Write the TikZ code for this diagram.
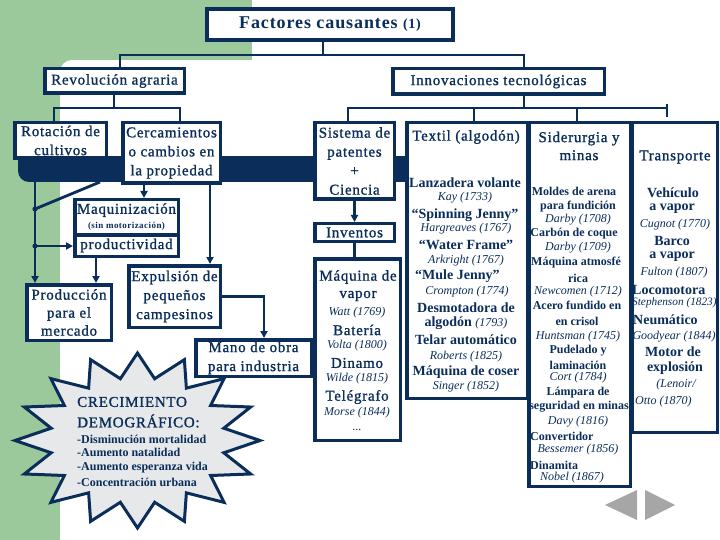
\documentclass[tikz,border=0pt]{standalone}
\usepackage{fontspec}
\setmainfont{Liberation Serif}
\newfontfamily\hdfont[LetterSpace=5,FakeBold=1.2]{Liberation Serif}
\newfontfamily\tifont[LetterSpace=5]{Liberation Serif}
\usetikzlibrary{arrows.meta}
\definecolor{navy}{RGB}{10,45,90}
\definecolor{bggreen}{RGB}{155,201,155}
\definecolor{navgray}{RGB}{166,166,166}
\definecolor{marble}{RGB}{230,232,234}
\newcommand\hdsz{\hdfont\fontsize{15}{19}\selectfont}
\begin{document}
\begin{tikzpicture}[x=1pt,y=-1pt,
  box/.style={draw=navy,line width=3.5pt,fill=white,inner sep=0pt,align=center,text=navy,font=\hdsz},
  conn/.style={draw=navy,line width=2.8pt},
  arr/.style={conn,-{Triangle[length=7pt,width=7pt]}},
  txt/.style={inner sep=0pt,text=navy},
  hd/.style={txt,font=\hdsz,align=center},
  bi/.style={txt,font=\bfseries\fontsize{14}{14}\selectfont},
  bs/.style={txt,font=\bfseries\fontsize{12}{12}\selectfont},
  it/.style={txt,font=\itshape\fontsize{12}{12}\selectfont},
  dot/.style={fill=navy}]
\useasboundingbox (0,0) rectangle (720,540);
% background
\fill[bggreen] (0,0) rectangle (252,60);
\fill[bggreen] (0,0) rectangle (60,540);
\fill[bggreen] (60,60) rectangle (72,72);
\fill[white] (72,72) circle (12);
% thick bar
\fill[navy, rounded corners=11pt] (18,150) rectangle (60,182);
\fill[navy] (40,156) rectangle (407,182);
% star
\filldraw[fill=marble, draw=navy, line width=3pt, miter limit=6]
  (260,440.5) \foreach \i in {1,...,31} { -- ({137.5+(88+34.5*(1-mod(\i,2)))*cos(\i*11.25)},{440.5-(63+24.5*(1-mod(\i,2)))*sin(\i*11.25)}) } -- cycle;
% navigation
\fill[navgray] (605,505) -- (637,490) -- (637,520) -- cycle;
\fill[navgray] (645,490) -- (675,505) -- (645,520) -- cycle;
% boxes
\node[box,line width=4pt,minimum width=246,minimum height=31,font=\tifont\bfseries\fontsize{18}{18}\selectfont] (title) at (330,24.5) {Factores causantes {\fontsize{14}{14}\selectfont (1)}};
\node[box,minimum width=139.5,minimum height=24.5] (revol) at (114.5,81) {Revolución agraria};
\node[box,minimum width=211.5,minimum height=25.5] (innov) at (498.5,81.5) {Innovaciones tecnológicas};
\node[box,minimum width=91.5,minimum height=35.5] (rot) at (60.5,140.5) {Rotación de\\cultivos};
\node[box,minimum width=97.5,minimum height=60.5] (cerc) at (171.5,153) {Cercamientos\\o cambios en\\la propiedad};
\node[box,minimum width=103.5,minimum height=34.5] (maq) at (126.5,217) {Maquinización\\[-4pt]{\tifont\bfseries\fontsize{9}{9}\selectfont (sin motorización)}};
\node[box,minimum width=103.5,minimum height=21.5] (prodv) at (126.5,245.5) {productividad};
\node[box,minimum width=84.5,minimum height=55.5,font=\hdfont\fontsize{15}{18}\selectfont] (prod) at (69,312.5) {Producción\\para el\\mercado};
\node[box,minimum width=91.5,minimum height=61.5] (exp) at (174.5,296.5) {Expulsión de\\pequeños\\campesinos};
\node[box,minimum width=115.5,minimum height=36.5] (mano) at (253.5,358) {Mano de obra\\para industria};
\node[box,minimum width=79.5,minimum height=76.5] (sist) at (354.5,161) {Sistema de\\patentes\\+\\Ciencia};
\node[box,minimum width=79.5,minimum height=17.5] (inv) at (354.5,232.5) {Inventos};
\node[box,minimum width=85.5,minimum height=181.5] (maq2) at (357.5,349.5) {};
\node[box,minimum width=120.5,minimum height=275.5] (textil) at (467,260.5) {};
\node[box,minimum width=101.5,minimum height=363.5] (sider) at (579.5,304.5) {};
\node[box,minimum width=85.5,minimum height=309.5] (transp) at (674.5,277.5) {};
% junction coordinates
\coordinate (jt) at (323,55);
\coordinate (ja) at (120,55);
\coordinate (jb) at (524,55);
\coordinate (jr) at (114,108);
\coordinate (jr1) at (54,108);
\coordinate (jr2) at (180,108);
\coordinate (ji) at (524,108);
\coordinate (ji1) at (348,108);
\coordinate (ji2) at (474,108);
\coordinate (ji3) at (577,108);
\coordinate (ji4) at (667,108);
\coordinate (tkA) at (667,104);
\coordinate (tkB) at (667,117);
\coordinate (bl) at (35,182);
\coordinate (d1) at (35,209);
\coordinate (d1e) at (100,182);
\coordinate (d2) at (35,246);
\coordinate (c144) at (144,0);
\coordinate (c210) at (210,0);
\coordinate (c96) at (96,0);
\coordinate (c264) at (264,0);
% connectors
\draw[conn] (title.south -| jt) -- (jt);
\draw[conn] (revol.north -| ja) -- (ja) -- (jb) -- (innov.north -| jb);
\draw[conn] (revol.south -| jr) -- (jr);
\draw[conn] (rot.north -| jr1) -- (jr1) -- (jr2) -- (cerc.north -| jr2);
\draw[conn] (innov.south -| ji) -- (ji);
\draw[conn] (sist.north -| ji1) -- (ji1) -- (ji4);
\draw[conn] (ji2) -- (textil.north -| ji2);
\draw[conn] (ji3) -- (sider.north -| ji3);
\draw[conn] (tkA) -- (tkB);
\draw[arr] (bl) -- (prod.north -| bl);
\draw[conn] (d1) -- (d1e);
\fill[dot] (d1) circle (2.6);
\fill[dot] (d2) circle (2.6);
\draw[arr] (d2) -- (prodv.west |- d2);
\draw[arr] (cerc.south -| c144) -- (maq.north -| c144);
\draw[arr] (cerc.south -| c210) -- (exp.north -| c210);
\draw[arr] (prodv.south -| c96) -- (prod.north -| c96);
\draw[arr] (exp.east) -| (mano.north -| c264);
\draw[arr] (sist.south) -- (inv.north);
\draw[conn] (inv.south) -- (maq2.north -| inv.south);
% Maquina column
\node[hd] (mq1) at (358,277) {Máquina de};
\node[hd] (mq2) at (358,296) {vapor};
\node[it] (mq3) at (357,313) {Watt (1769)};
\node[hd] (mq4) at (357,330) {Batería};
\node[it] (mq5) at (357,346) {Volta (1800)};
\node[hd] (mq6) at (357,363) {Dinamo};
\node[it] (mq7) at (357,379) {Wilde (1815)};
\node[hd] (mq8) at (357,397) {Telégrafo};
\node[it] (mq9) at (357,413) {Morse (1844)};
\node[it] (mq10) at (357,430) {...};
% Textil column
\node[hd] (txh) at (466,137) {Textil (algodón)};
\node[bi] (tx1) at (465,183) {Lanzadera volante};
\node[it] (tx2) at (465,198) {Kay (1733)};
\node[bi] (tx3) at (465,215) {“Spinning Jenny”};
\node[it] (tx4) at (466,229) {Hargreaves (1767)};
\node[bi] (tx5) at (466,245) {“Water Frame”};
\node[it] (tx6) at (466,261) {Arkright (1767)};
\node[bi,anchor=west] (tx7) at (415,276) {“Mule Jenny”};
\node[it] (tx8) at (467,292) {Crompton (1774)};
\node[bi] (tx9) at (466,308) {Desmotadora de};
\node[bi] (tx10) at (466,323) {algodón {\mdseries\itshape\fontsize{12}{12}\selectfont (1793)}};
\node[bi] (tx11) at (466,340) {Telar automático};
\node[it] (tx12) at (466,357) {Roberts (1825)};
\node[bi] (tx13) at (466,372) {Máquina de coser};
\node[it] (tx14) at (466,387) {Singer (1852)};
% Siderurgia column
\node[hd,font=\hdfont\fontsize{15}{18}\selectfont] (sdh) at (579,146) {Siderurgia y\\minas};
\node[bs] (sd1) at (574,191) {Moldes de arena};
\node[bs] (sd2) at (578,207) {para fundición};
\node[it] (sd3) at (578,220) {Darby (1708)};
\node[bs] (sd4) at (574,234) {Carbón de coque};
\node[it] (sd5) at (578,248) {Darby (1709)};
\node[bs] (sd6) at (576,263) {Máquina atmosfé};
\node[bs] (sd7) at (578,278) {rica};
\node[it] (sd8) at (578,292) {Newcomen (1712)};
\node[bs] (sd9) at (577,305) {Acero fundido en};
\node[bs] (sd10) at (577,321) {en crisol};
\node[it] (sd11) at (578,337) {Huntsman (1745)};
\node[bs] (sd12) at (578,351) {Pudelado y};
\node[bs] (sd13) at (578,365) {laminación};
\node[it] (sd14) at (578,378) {Cort (1784)};
\node[bs] (sd15) at (578,393) {Lámpara de};
\node[bs] (sd16) at (579,407) {seguridad en minas};
\node[it] (sd17) at (578,422) {Davy (1816)};
\node[bs,anchor=west] (sd18) at (530,436) {Convertidor};
\node[it] (sd19) at (578,450) {Bessemer (1856)};
\node[bs,anchor=west] (sd20) at (530,465) {Dinamita};
\node[it] (sd21) at (572,478) {Nobel (1867)};
% Transporte column
\node[hd] (trh) at (675,157) {Transporte};
\node[bi] (tr1) at (673,193) {Vehículo};
\node[bi] (tr2) at (672,209) {a vapor};
\node[it] (tr3) at (675,225) {Cugnot (1770)};
\node[bi] (tr4) at (672,241) {Barco};
\node[bi] (tr5) at (672,257) {a vapor};
\node[it] (tr6) at (674,273) {Fulton (1807)};
\node[bi,anchor=west] (tr7) at (632,290) {Locomotora};
\node[it,anchor=west,font=\itshape\fontsize{11.3}{12}\selectfont] (tr8) at (632,303) {Stephenson (1823)};
\node[bi,anchor=west] (tr9) at (633,320) {Neumático};
\node[it] (tr10) at (674,337) {Goodyear (1844)};
\node[bi] (tr11) at (673,352) {Motor de};
\node[bi] (tr12) at (675,368) {explosión};
\node[it] (tr13) at (676,385) {(Lenoir/};
\node[it,anchor=west] (tr14) at (635,402) {Otto (1870)};
% star text
\node[hd,anchor=west] (st1) at (77,402) {CRECIMIENTO};
\node[hd,anchor=west] (st2) at (77,421) {DEMOGRÁFICO:};
\node[bs,anchor=west] (st3) at (77,439) {-Disminución mortalidad};
\node[bs,anchor=west] (st4) at (77,452) {-Aumento natalidad};
\node[bs,anchor=west] (st5) at (77,468) {-Aumento esperanza vida};
\node[bs,anchor=west] (st6) at (77,482) {-Concentración urbana};
\end{tikzpicture}
\end{document}
